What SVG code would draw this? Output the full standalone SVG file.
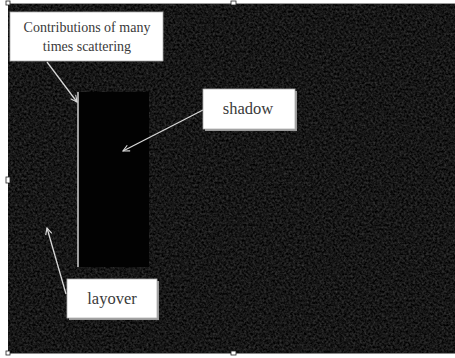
<svg xmlns="http://www.w3.org/2000/svg" width="455" height="358" viewBox="0 0 455 358">
  <style>
    .lbl { fill: #ffffff; stroke: #b0b0b0; stroke-width: 0.8; }
    .shd { fill: #9a9a9a; }
    .txt { font-family: "Liberation Serif", "Times New Roman", serif; fill: #3a3a3a; text-anchor: middle; }
    .conn { stroke: #d8d8d8; stroke-width: 1.3; fill: none; marker-end: url(#arr); }
    .handle { fill: #ffffff; stroke: #222222; stroke-width: 0.8; }
  </style>
  <defs>
    <filter id="grain" x="0" y="0" width="100%" height="100%" color-interpolation-filters="sRGB">
      <feTurbulence type="fractalNoise" baseFrequency="0.45" numOctaves="2" seed="7" result="n"/>
      <feColorMatrix in="n" type="matrix" values="0.32 0 0 0 -0.07  0.32 0 0 0 -0.07  0.32 0 0 0 -0.07  0 0 0 0 1"/>
    </filter>
    <marker id="arr" viewBox="0 0 10 10" refX="9" refY="5" markerWidth="8" markerHeight="8" markerUnits="userSpaceOnUse" orient="auto">
      <polyline points="1,1 9,5 1,9" fill="none" stroke="#d8d8d8" stroke-width="1.4"/>
    </marker>
  </defs>

  <rect width="455" height="358" fill="#ffffff"/>
  <g id="image">
    <rect x="8" y="4" width="447" height="349" fill="#141414"/>
    <rect x="8" y="4" width="447" height="349" filter="url(#grain)"/>
    <line x1="8" y1="3.5" x2="455" y2="3.5" stroke="#9a9a9a" stroke-width="1"/>
    <line x1="8" y1="353.5" x2="455" y2="353.5" stroke="#8a8a8a" stroke-width="1"/>
  </g>

  <g id="shadow-region">
    <rect x="78" y="92" width="71" height="175" fill="#020202"/>
    <line x1="78" y1="92" x2="78" y2="267" stroke="#d0d0d0" stroke-width="1.5"/>
  </g>

  <g id="connectors">
    <line class="conn" x1="47" y1="62" x2="77" y2="102"/>
    <line class="conn" x1="203" y1="110" x2="123" y2="151"/>
    <line class="conn" x1="66" y1="294" x2="47" y2="228"/>
  </g>

  <g id="contributions">
    <rect class="lbl" x="10" y="12" width="153" height="49"/>
    <text class="txt" x="87" y="32" font-size="14">Contributions of many</text>
    <text class="txt" x="87" y="51" font-size="14">times scattering</text>
  </g>

  <g id="shadow">
    <rect class="shd" x="205" y="91" width="92" height="40"/>
    <rect class="lbl" x="203" y="89" width="92" height="40"/>
    <text class="txt" x="248" y="114" font-size="16.5">shadow</text>
  </g>

  <g id="layover">
    <rect class="shd" x="69" y="281" width="90" height="39"/>
    <rect class="lbl" x="67" y="279" width="90" height="39"/>
    <text class="txt" x="112" y="304" font-size="16.5">layover</text>
  </g>

  <g id="handles">
    <rect class="handle" x="6" y="1" width="4" height="4"/>
    <rect class="handle" x="231" y="1" width="5" height="4"/>
    <rect class="handle" x="6" y="177" width="4" height="6"/>
    <rect class="handle" x="231" y="351" width="5" height="4"/>
    <rect class="handle" x="6" y="351" width="4" height="4"/>
  </g>
</svg>
